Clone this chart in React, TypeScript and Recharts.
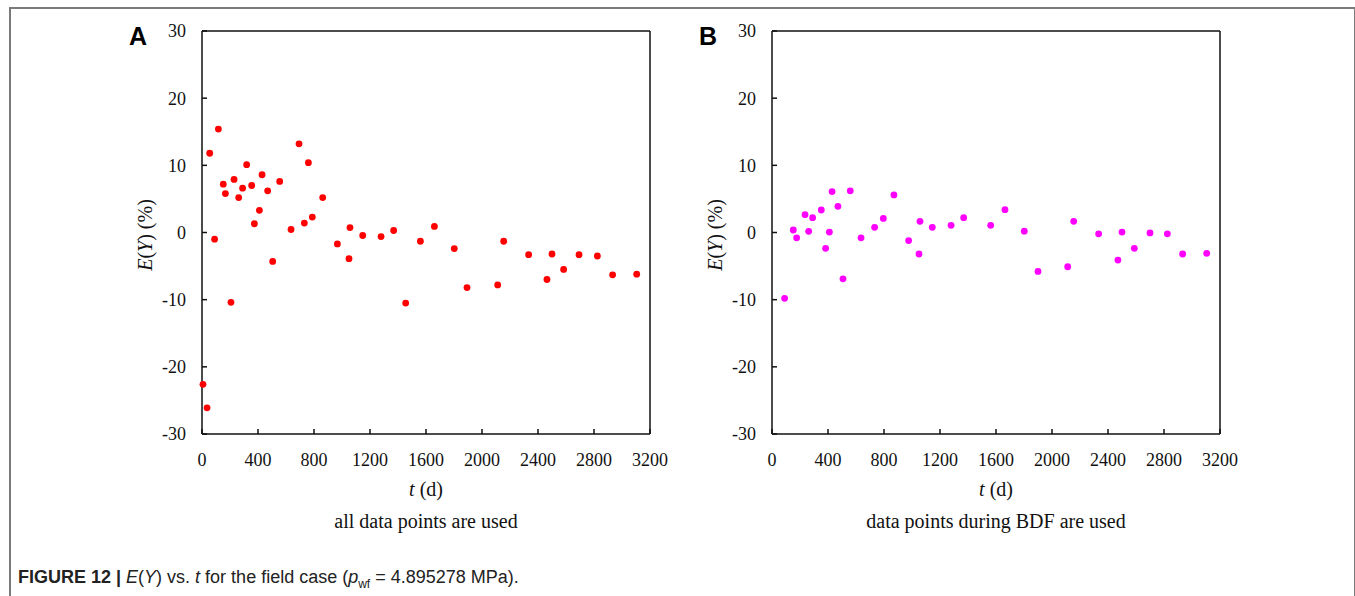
import React from 'react';
import { ScatterChart, Scatter, XAxis, YAxis, ReferenceLine } from 'recharts';

// panel A: all data points
const tA = [7, 36, 55, 90, 117, 152, 167, 207, 229, 262, 290, 319, 355, 374, 410, 429, 469, 505, 555, 636, 693, 731, 760, 788, 862, 967, 1050, 1057, 1148, 1279, 1369, 1455, 1560, 1660, 1802, 1893, 2112, 2155, 2333, 2464, 2500, 2583, 2693, 2824, 2933, 3105];
const eA = [-22.6, -26.1, 11.8, -1.0, 15.4, 7.2, 5.8, -10.4, 7.9, 5.2, 6.6, 10.1, 7.0, 1.3, 3.3, 8.6, 6.2, -4.3, 7.6, 0.45, 13.2, 1.4, 10.4, 2.3, 5.2, -1.7, -3.9, 0.74, -0.45, -0.6, 0.3, -10.5, -1.3, 0.9, -2.4, -8.2, -7.8, -1.3, -3.3, -7.0, -3.2, -5.5, -3.3, -3.5, -6.3, -6.2];

// panel B: data points during BDF
const tB = [90, 152, 176, 236, 262, 290, 352, 383, 410, 429, 471, 507, 559, 636, 733, 795, 871, 976, 1050, 1057, 1145, 1279, 1369, 1562, 1664, 1802, 1900, 2112, 2155, 2333, 2471, 2500, 2588, 2700, 2824, 2933, 3105];
const eB = [-9.8, 0.37, -0.8, 2.65, 0.18, 2.2, 3.35, -2.35, 0.07, 6.1, 3.9, -6.9, 6.2, -0.8, 0.77, 2.1, 5.6, -1.2, -3.2, 1.67, 0.77, 1.07, 2.2, 1.07, 3.4, 0.2, -5.8, -5.1, 1.67, -0.2, -4.1, 0.07, -2.35, -0.07, -0.2, -3.2, -3.1];

const xTicks = [0, 400, 800, 1200, 1600, 2000, 2400, 2800, 3200];
const yTicks = [-30, -20, -10, 0, 10, 20, 30];

const serif = '"Liberation Serif", "Times New Roman", serif';
const sans = '"Liberation Sans", Arial, sans-serif';

const YTick = (props: any) => {
  const { x, y, payload } = props;
  const ax = x + 16;
  return (
    <g>
      <line x1={ax} y1={y} x2={ax + 5} y2={y} stroke="#111" strokeWidth={1.5} />
      <text x={x} y={y} dy="0.36em" textAnchor="end" fontFamily={serif} fontSize={18} fill="#111">
        {payload.value}
      </text>
    </g>
  );
};

const XTick = (props: any) => {
  const { x, y, payload } = props;
  const ay = y - 19;
  return (
    <g>
      <line x1={x} y1={ay} x2={x} y2={ay - 5} stroke="#111" strokeWidth={1.5} />
      <text x={x} y={y} dy="0.71em" textAnchor="middle" fontFamily={serif} fontSize={18} fill="#111">
        {payload.value}
      </text>
    </g>
  );
};

const Panel = ({ left, letter, data, color, subtitle }: any) => {
  const dot = (p: any) => <circle cx={p.cx} cy={p.cy} r={3.4} fill={color} />;
  return (
    <div style={{ position: 'absolute', left, top: 0, width: 600, height: 540 }}>
      <ScatterChart width={600} height={540} margin={{ top: 31, right: 50, left: 62, bottom: 76 }}>
        <XAxis
          type="number"
          dataKey="t"
          domain={[0, 3200]}
          ticks={xTicks}
          height={30}
          tickSize={0}
          tickMargin={19}
          tickLine={false}
          axisLine={{ stroke: '#111', strokeWidth: 1.5 }}
          tick={<XTick />}
          interval={0}
        />
        <YAxis
          type="number"
          dataKey="e"
          domain={[-30, 30]}
          ticks={yTicks}
          width={40}
          tickSize={0}
          tickMargin={16}
          tickLine={false}
          axisLine={{ stroke: '#111', strokeWidth: 1.5 }}
          tick={<YTick />}
          interval={0}
        />
        <ReferenceLine y={30} stroke="#111" strokeWidth={1.5} />
        <ReferenceLine x={3200} stroke="#111" strokeWidth={1.5} />
        <Scatter data={data} shape={dot} isAnimationActive={false} />
      </ScatterChart>
      <div style={{ position: 'absolute', left: 29, top: 22, fontFamily: sans, fontWeight: 700, fontSize: 25, color: '#000' }}>
        {letter}
      </div>
      <div
        style={{
          position: 'absolute', left: 45, top: 235, width: 140, marginLeft: -70, textAlign: 'center',
          transform: 'rotate(-90deg)', fontFamily: serif, fontSize: 20, lineHeight: '24px', marginTop: -12, color: '#111',
          whiteSpace: 'nowrap',
        }}
      >
        <i>E</i>(<i>Y</i>) (%)
      </div>
      <div style={{ position: 'absolute', left: 326, top: 478, width: 0, display: 'flex', justifyContent: 'center', fontFamily: serif, fontSize: 20, color: '#111', whiteSpace: 'nowrap' }}>
        <span><i>t</i> (d)</span>
      </div>
      <div style={{ position: 'absolute', left: 326, top: 510, width: 0, display: 'flex', justifyContent: 'center', fontFamily: serif, fontSize: 20, color: '#111', whiteSpace: 'nowrap' }}>
        <span>{subtitle}</span>
      </div>
    </div>
  );
};

export default function App() {
  const dataA = tA.map((t, i) => ({ t, e: eA[i] }));
  const dataB = tB.map((t, i) => ({ t, e: eB[i] }));
  return (
    <div style={{ position: 'absolute', left: 0, top: 0, width: 1355, height: 596, background: '#fff', overflow: 'hidden' }}>
      <div style={{ position: 'absolute', left: 9, top: 7, width: 1343, height: 600, borderTop: '2px solid #7a7a7a', borderLeft: '2px solid #7a7a7a', borderRight: '2px solid #7a7a7a' }} />
      <Panel left={100} letter="A" data={dataA} color="#ff0000" subtitle="all data points are used" />
      <Panel left={670} letter="B" data={dataB} color="#ff00ff" subtitle="data points during BDF are used" />
      <div style={{ position: 'absolute', left: 18, top: 566, fontFamily: sans, fontSize: 18, color: '#222', whiteSpace: 'nowrap', lineHeight: '22px' }}>
        <b>FIGURE 12 | </b><i>E</i>(<i>Y</i>) vs. <i>t</i> for the field case (<i>p</i><sub style={{ fontSize: 12 }}>wf</sub> = 4.895278 MPa).
      </div>
    </div>
  );
}
